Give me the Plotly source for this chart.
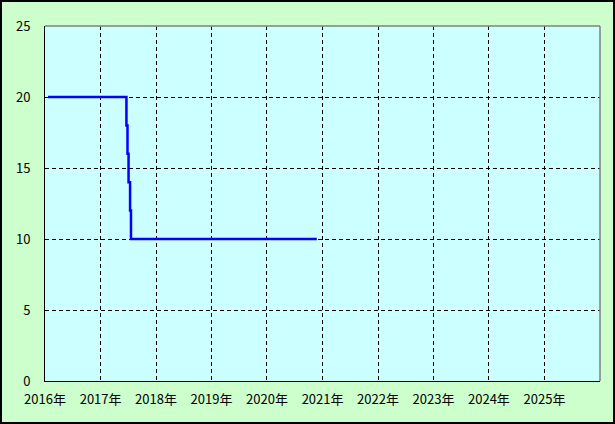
import plotly.graph_objects as go

dates = ["2016-01-21", "2017-06-20", "2017-06-27", "2017-07-04", "2017-07-14", "2017-07-20", "2020-11-24"]
values = [20, 18, 16, 14, 12, 10, 10]

tick_years = [str(y) for y in range(2016, 2026)]
tick_vals = [f"{y}-01-01" for y in tick_years]
tick_text = [f"{y}年" for y in tick_years]

W, H = 615, 424
ML, MR, MT, MB = 45, 15, 26, 43
PW, PH = W - ML - MR, H - MT - MB

fig = go.Figure()
fig.add_trace(go.Scatter(x=dates, y=values, mode="lines", line=dict(color="#0000ff", width=2.5, shape="hv"),
                         hoverinfo="skip"))

font = dict(family="Noto Sans CJK JP, sans-serif", size=13, color="black")

fig.update_layout(
    width=W, height=H,
    margin=dict(l=ML, r=MR, t=MT, b=MB),
    paper_bgcolor="#ccffcc", plot_bgcolor="#ccffff",
    showlegend=False, font=font,
    xaxis=dict(type="date", range=["2016-01-01", "2026-01-01"], tickvals=tick_vals, ticktext=tick_text,
               showgrid=True, gridcolor="black", griddash="4px,3px", gridwidth=1,
               showline=True, linecolor="black", linewidth=1, ticks="", zeroline=False,
               tickfont=font, ticklabelstandoff=6, fixedrange=True),
    yaxis=dict(range=[0, 25], tickvals=[0, 5, 10, 15, 20, 25], showgrid=True, gridcolor="black",
               griddash="4px,3px", gridwidth=1, showline=True, linecolor="black", linewidth=1,
               ticks="", zeroline=False, tickfont=font, ticklabelstandoff=11, fixedrange=True),
)

# gray top/right border of the plot area
fig.add_shape(type="line", xref="paper", yref="paper", x0=0, x1=1, y0=1, y1=1,
              line=dict(color="#808080", width=1.5))
fig.add_shape(type="line", xref="paper", yref="paper", x0=1, x1=1, y0=0, y1=1,
              line=dict(color="#808080", width=1.5))

# outer black frame around the image
def px(x):
    return (x - ML) / PW

def py(y):
    return 1 - (y - MT) / PH

fig.add_shape(type="rect", xref="paper", yref="paper", x0=px(1), x1=px(W - 1), y0=py(H - 1), y1=py(1),
              line=dict(color="black", width=2), fillcolor="rgba(0,0,0,0)", layer="above")

fig.write_html("out.html", config={"displayModeBar": False},
               post_script="document.body.style.margin='0';document.body.style.overflow='hidden';")
